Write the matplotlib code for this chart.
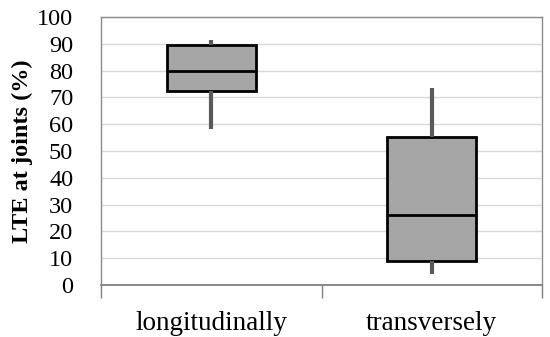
import matplotlib.pyplot as plt

categories = ["longitudinally", "transversely"]
whisker_low = [58.2, 4.0]
q1 = [72.5, 9.1]
median = [80.0, 26.1]
q3 = [89.5, 55.3]
whisker_high = [91.4, 73.4]

plt.rcParams['font.family'] = ['Liberation Serif', 'DejaVu Serif']

stats = []
for i in range(len(categories)):
    stats.append({"whislo": whisker_low[i], "q1": q1[i], "med": median[i],
                  "q3": q3[i], "whishi": whisker_high[i], "label": categories[i]})

fig = plt.figure(figsize=(5.5, 3.37), dpi=100)
ax = fig.add_axes([101 / 550, 52 / 337, 441 / 550, 268 / 337])

positions = [0.5, 1.5]
ax.bxp(stats, positions=positions, widths=0.405, showcaps=False, showfliers=False,
       patch_artist=True,
       boxprops=dict(facecolor="#a6a6a6", edgecolor="black", linewidth=2.0),
       medianprops=dict(color="black", linewidth=2.0),
       whiskerprops=dict(color="#595959", linewidth=3.0, solid_capstyle="butt"),
       zorder=3)

ax.set_xlim(0, 2)
ax.set_ylim(0, 100)
ax.set_yticks(range(0, 101, 10))
ax.yaxis.grid(True, color="#d9d9d9", linewidth=1.0, zorder=0)
ax.set_axisbelow(True)

ax.set_xticks([0, 1, 2])
ax.set_xticklabels([])
ax.set_xticks(positions, minor=True)
ax.set_xticklabels(categories, minor=True, fontsize=19.5)
ax.tick_params(axis="x", which="major", length=9, color="#808080", width=1)
ax.tick_params(axis="x", which="minor", length=0, pad=19)
ax.tick_params(axis="y", length=0, labelsize=17.5, pad=20)

for s in ax.spines.values():
    s.set_color("#8c8c8c")
    s.set_linewidth(1.0)
ax.spines["bottom"].set_color("#808080")
ax.spines["bottom"].set_linewidth(1.3)

ax.set_ylabel("LTE at joints (%)", fontsize=17.5, fontweight="bold", labelpad=3)

fig.savefig("out.png", dpi=100)
